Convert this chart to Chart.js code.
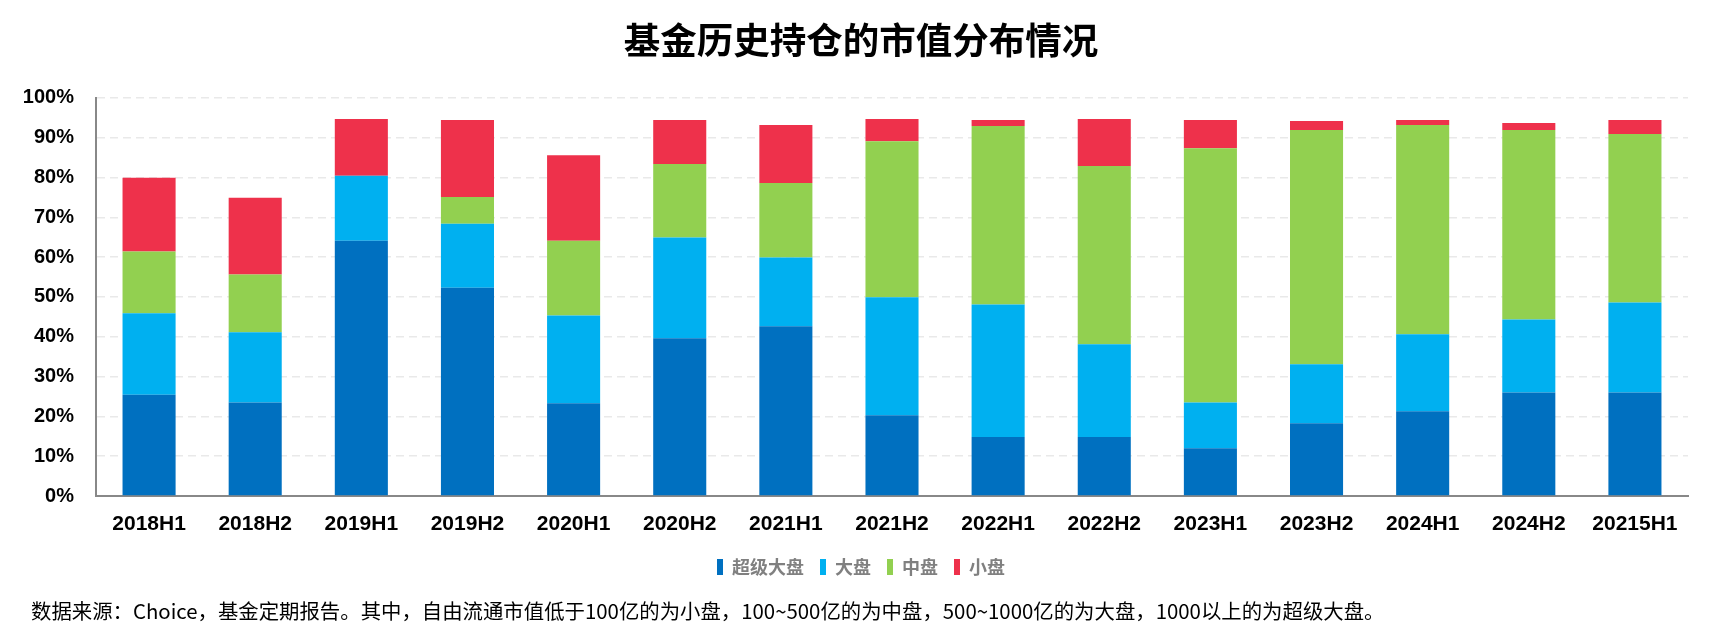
<!DOCTYPE html>
<html>
<head>
<meta charset="utf-8">
<script src="https://cdn.jsdelivr.net/npm/chart.js@4.4.1/dist/chart.umd.min.js"></script>
<style>
  html, body { margin: 0; padding: 0; background: #fff; }
  #wrap { position: relative; width: 1722px; height: 643px; }
  #note {
    position: absolute; left: 31px; top: 597px;
    font: 20.4px "Noto Sans CJK SC", "Liberation Sans", sans-serif;
    color: #000; white-space: nowrap; line-height: 26px;
  }
</style>
</head>
<body>
<div id="wrap">
  <canvas id="chart" width="1722" height="643"></canvas>
  <div id="note">数据来源：Choice，基金定期报告。其中，自由流通市值低于100亿的为小盘，100~500亿的为中盘，500~1000亿的为大盘，1000以上的为超级大盘。</div>
</div>
<script>
// categories and stacked shares (%)
const periods = ['2018H1', '2018H2', '2019H1', '2019H2', '2020H1', '2020H2', '2021H1', '2021H2',
                 '2022H1', '2022H2', '2023H1', '2023H2', '2024H1', '2024H2', '20215H1'];
const superLarge = [25.4, 23.5, 64.1, 52.3, 23.3, 39.6, 42.6, 20.3, 14.8, 14.8, 12.0, 18.3, 21.3, 26.0, 26.0];
const large      = [20.5, 17.6, 16.3, 16.1, 22.0, 25.3, 17.3, 29.6, 33.3, 23.3, 11.5, 14.8, 19.3, 18.3, 22.6];
const mid        = [15.5, 14.5, 0.0, 6.7, 18.8, 18.5, 18.7, 39.2, 44.8, 44.8, 63.8, 58.8, 52.6, 47.6, 42.3];
const small      = [18.5, 19.3, 14.3, 19.3, 21.5, 11.0, 14.6, 5.6, 1.5, 11.8, 7.1, 2.3, 1.2, 1.8, 3.5];
const seriesNames = ['超级大盘', '大盘', '中盘', '小盘'];
const yTicks = [0, 10, 20, 30, 40, 50, 60, 70, 80, 90, 100];

const colors = ['#0070C0', '#00B0F0', '#92D050', '#EE314B'];
const latin = '"Liberation Sans", "Noto Sans CJK SC", sans-serif';
const cjk = '"Noto Sans CJK SC", "Liberation Sans", sans-serif';

const ctx = document.getElementById('chart').getContext('2d');
new Chart(ctx, {
    type: 'bar',
    data: {
        labels: periods,
        datasets: [superLarge, large, mid, small].map((d, i) => ({
            label: seriesNames[i],
            data: d,
            backgroundColor: colors[i],
            borderWidth: 0,
            categoryPercentage: 1,
            barPercentage: 0.5
        }))
    },
    options: {
        responsive: false,
        animation: false,
        layout: { padding: { left: 0, right: 0, top: 0, bottom: 57 } },
        plugins: {
            title: {
                display: true,
                text: '基金历史持仓的市值分布情况',
                color: '#000',
                font: { family: cjk, size: 36.5, weight: 'bold' },
                padding: { top: 18, bottom: 36 }
            },
            legend: {
                position: 'bottom',
                labels: {
                    boxWidth: 6, boxHeight: 16, padding: 16,
                    color: '#808080',
                    font: { family: cjk, size: 18, weight: 'bold' }
                }
            },
            tooltip: { enabled: false }
        },
        scales: {
            x: {
                stacked: true,
                grid: { display: false, drawTicks: false },
                border: { display: true, color: '#888888', width: 2 },
                ticks: { color: '#000', padding: 16, font: { family: latin, size: 21, weight: 'bold' }, maxRotation: 0 },
                afterFit(scale) { scale.height = 46; }
            },
            y: {
                stacked: true,
                min: 0, max: 100,
                afterBuildTicks(scale) { scale.ticks = yTicks.map(v => ({ value: v })); },
                grid: { color: '#e9e9e9', lineWidth: 1.5, drawTicks: false },
                border: { display: true, color: '#888888', width: 2, dash: [8, 5] },
                ticks: { color: '#000', padding: 22, font: { family: latin, size: 20, weight: 'bold' },
                         callback: v => v + '%' },
                afterFit(scale) { scale.width = 96; }
            },
            // empty right margin so the plot ends where the original does
            yRight: {
                position: 'right',
                display: true,
                grid: { display: false, drawTicks: false },
                border: { display: false },
                ticks: { display: false },
                afterFit(scale) { scale.width = 34; }
            }
        }
    }
});
</script>
</body>
</html>
